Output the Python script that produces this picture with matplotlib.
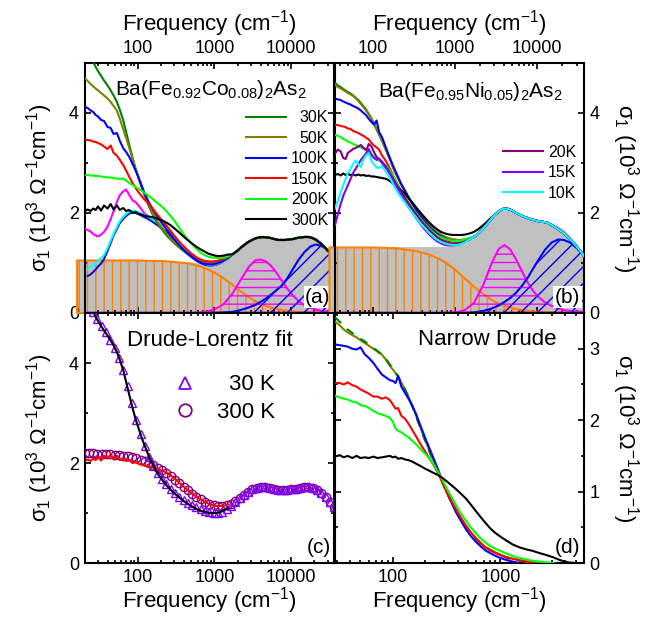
import numpy as np
import matplotlib.pyplot as plt
from matplotlib.lines import Line2D
from matplotlib.ticker import LogLocator, NullFormatter, FuncFormatter, MultipleLocator

plt.rcParams['font.family'] = ['Liberation Sans', 'DejaVu Sans']
plt.rcParams['mathtext.default'] = 'regular'
plt.rcParams['hatch.linewidth'] = 1.0

nan = np.nan

# ---------------- (a) Ba(Fe0.92Co0.08)2As2 ----------------
fa = [20, 22, 24, 26, 28, 30, 33, 36, 40, 44, 48, 53, 58, 64, 70, 77, 85, 93, 100, 110,
      120, 135, 150, 170, 190, 215, 240, 270, 300, 340, 380, 430, 480, 540, 600, 680, 760,
      850, 950, 1070, 1200, 1350, 1500]
s30 = [5.5, 5.3, 5.15, 5.02, 4.92, 4.84, 4.74, 4.65, 4.55, 4.45, 4.35, 4.22, 4.06, 3.86, 3.62,
       3.36, 3.1, 2.88, 2.73, 2.54, 2.38, 2.18, 2.02, 1.86, 1.74, 1.63, 1.54, 1.46, 1.39, 1.32,
       1.26, 1.2, 1.15, 1.11, 1.07, 1.04, 1.02, 1.0, 1.0, 1.0, 1.02, 1.06, 1.1]
s50 = [4.7, 4.64, 4.58, 4.53, 4.49, 4.45, 4.4, 4.35, 4.29, 4.22, 4.14, 4.05, 3.88, 3.68, 3.5,
       3.3, 3.08, 2.89, 2.74, 2.57, 2.41, 2.21, 2.05, 1.89, 1.77, 1.66, 1.57, 1.48, 1.41, 1.34,
       1.28, 1.22, 1.17, 1.12, 1.08, 1.05, 1.02, 1.01, 1.0, 1.01, 1.03, 1.06, 1.1]
s100 = [4.12, 4.1, 4.05, 4.02, 3.96, 3.93, 3.86, 3.84, 3.72, 3.7, 3.58, 3.6, 3.44, 3.3, 3.22,
        3.12, 2.98, 2.85, 2.74, 2.57, 2.42, 2.25, 2.12, 1.98, 1.87, 1.76, 1.66, 1.56, 1.47, 1.37,
        1.29, 1.21, 1.15, 1.09, 1.04, 1.0, 0.98, 0.97, 0.97, 0.99, 1.02, 1.06, 1.1]
s150 = [3.47, 3.46, 3.45, 3.43, 3.42, 3.4, 3.37, 3.33, 3.28, 3.35, 3.2, 3.15, 3.06, 2.96, 2.85,
        2.72, 2.6, 2.5, 2.43, 2.35, 2.28, 2.2, 2.12, 2.01, 1.92, 1.82, 1.73, 1.63, 1.54, 1.44,
        1.36, 1.28, 1.21, 1.15, 1.1, 1.06, 1.04, 1.03, 1.03, 1.04, 1.06, 1.09, 1.13]
s200 = [2.76, 2.76, 2.75, 2.75, 2.74, 2.74, 2.73, 2.72, 2.71, 2.71, 2.7, 2.69, 2.68, 2.69, 2.65,
        2.6, 2.56, 2.52, 2.49, 2.45, 2.41, 2.35, 2.3, 2.23, 2.17, 2.1, 2.02, 1.93, 1.84, 1.72,
        1.61, 1.5, 1.42, 1.33, 1.26, 1.19, 1.15, 1.12, 1.11, 1.1, 1.1, 1.11, 1.13]
s300 = [2.04, 2.07, 2.04, 2.09, 2.06, 2.13, 2.05, 2.15, 2.09, 2.18, 2.07, 2.15, 2.06, 2.1, 2.04,
        2.06, 2.0, 2.02, 1.99, 1.97, 1.95, 1.93, 1.92, 1.9, 1.87, 1.84, 1.8, 1.75, 1.69, 1.62,
        1.55, 1.48, 1.42, 1.36, 1.31, 1.26, 1.22, 1.18, 1.16, 1.14, 1.14, 1.15, 1.17]
mag_a = [1.69, 1.66, 1.63, 1.58, 1.55, 1.53, 1.57, 1.62, 1.73, 1.88, 2.04, 2.22, 2.36, 2.43, 2.47,
         2.36, 2.25, 2.22, 2.16, 2.08, 2.0, 1.94, 1.89, 1.83, 1.78, 1.72, 1.66, 1.58, 1.5, 1.41,
         1.33, 1.25, 1.18, 1.12, 1.07, 1.02, 0.99, 0.97, 0.97, 0.99, 1.02, 1.07, 1.12]
cyan_a = [nan, 0.88, 0.93, 0.95, 1.0, 1.04, 1.1, 1.16, 1.3, 1.45, 1.58, 1.72, 1.84, 1.92, 1.98,
          2.03, 2.05, 2.04, 2.02, 1.99, 1.97, 1.93, 1.89, 1.83, 1.78, 1.72, 1.66, 1.57, 1.49, 1.4,
          1.32, 1.24, 1.17, 1.11, 1.06, 1.01, 0.98, 0.96, 0.96, 0.98, 1.01, 1.06, 1.11]
dblue_a = [nan, 0.74, 0.77, 0.82, 0.87, 0.93, 0.99, 1.08, 1.24, 1.4, 1.55, 1.68, 1.8, 1.88, 1.94,
           1.99, 2.01, 2.0, 1.98, 1.95, 1.92, 1.88, 1.84, 1.78, 1.73, 1.67, 1.61, 1.53, 1.45, 1.36,
           1.28, 1.2, 1.14, 1.08, 1.03, 0.99, 0.96, 0.95, 0.95, 0.97, 1.0, 1.05, 1.1]

f_tail = [1700, 1900, 2150, 2400, 2700, 3000, 3400, 3800, 4300, 4800, 5400, 6000, 6800, 7600,
          8500, 9500, 10700, 12000, 13500, 15000, 17000, 19000, 21500, 24000, 27000, 30000,
          33000, 37000]
tail_a = [1.17, 1.22, 1.29, 1.35, 1.41, 1.45, 1.49, 1.51, 1.52, 1.51, 1.5, 1.48, 1.46, 1.46,
          1.46, 1.47, 1.48, 1.5, 1.51, 1.52, 1.52, 1.5, 1.46, 1.4, 1.33, 1.25, 1.2, 1.13]

# Drude-Lorentz components of the fit
ffa = [16, 20, 30, 50, 100, 150, 200, 300, 400, 500, 650, 800, 1000, 1300, 1700, 2200, 2800,
       3400, 4000, 4700, 5500, 6500, 7700, 9000, 10500, 12500, 15000, 18000, 21000, 25000,
       30000, 37000]
total_a = [1.05, 1.05, 1.05, 1.05, 1.05, 1.05, 1.05, 1.04, 1.03, 1.02, 1.0, 0.99, 1.02, 1.08,
           1.17, 1.3, 1.42, 1.49, 1.52, 1.51, 1.49, 1.47, 1.46, 1.47, 1.48, 1.5, 1.52, 1.51,
           1.47, 1.39, 1.27, 1.14]
drude_a = [1.05, 1.05, 1.05, 1.05, 1.05, 1.04, 1.04, 1.02, 1.0, 0.98, 0.93, 0.88, 0.81, 0.7,
           0.57, 0.43, 0.32, 0.24, 0.19, 0.14, 0.11, 0.08, 0.06, 0.04, 0.03, 0.02, 0.02, 0.01,
           0.01, 0.0, 0.0, 0.0]
lor1_a = [0, 0, 0, 0, 0, 0, 0, 0, 0, 0, 0.01, 0.03, 0.07, 0.17, 0.38, 0.66, 0.92, 1.05, 1.07,
          1.03, 0.94, 0.8, 0.63, 0.48, 0.36, 0.24, 0.15, 0.1, 0.07, 0.04, 0.03, 0.01]
lor2_a = [0, 0, 0, 0, 0, 0, 0, 0, 0, 0, 0, 0, 0, 0.01, 0.02, 0.06, 0.11, 0.16, 0.22, 0.29, 0.37,
          0.46, 0.56, 0.7, 0.87, 1.06, 1.22, 1.33, 1.37, 1.34, 1.27, 1.14]

# ---------------- (b) Ba(Fe0.95Ni0.05)2As2 ----------------
fb = [35, 38, 41, 44, 47, 50, 54, 58, 62, 67, 72, 78, 84, 90, 97, 104, 112, 120, 130, 140, 152,
      165, 180, 200, 220, 245, 270, 300, 340, 380, 430, 480, 540, 600, 680, 760, 850, 950, 1070,
      1200, 1350, 1500]
b30 = [4.6, 4.55, 4.52, 4.48, 4.45, 4.42, 4.39, 4.35, 4.31, 4.26, 4.2, 4.13, 4.06, 3.98, 3.89,
       3.79, 3.68, 3.57, 3.45, 3.33, 3.19, 3.05, 2.89, 2.73, 2.59, 2.45, 2.33, 2.21, 2.08, 1.97,
       1.86, 1.77, 1.69, 1.62, 1.56, 1.52, 1.49, 1.47, 1.46, 1.46, 1.47, 1.49]
b50 = [4.56, 4.52, 4.49, 4.46, 4.43, 4.4, 4.37, 4.34, 4.3, 4.24, 4.18, 4.11, 4.04, 3.97, 3.88,
       3.78, 3.67, 3.57, 3.44, 3.32, 3.18, 3.04, 2.88, 2.72, 2.58, 2.44, 2.32, 2.2, 2.07, 1.96,
       1.85, 1.76, 1.68, 1.62, 1.56, 1.52, 1.49, 1.47, 1.46, 1.46, 1.47, 1.49]
b100 = [4.29, 4.27, 4.26, 4.23, 4.21, 4.19, 4.17, 4.14, 4.12, 4.09, 4.05, 4.0, 3.95, 3.88, 3.82,
        3.77, 3.85, 3.62, 3.52, 3.38, 3.22, 3.07, 2.92, 2.75, 2.6, 2.46, 2.33, 2.2, 2.06, 1.94,
        1.83, 1.73, 1.65, 1.59, 1.53, 1.49, 1.46, 1.44, 1.43, 1.44, 1.46, 1.49]
b150 = [3.76, 3.76, 3.74, 3.73, 3.72, 3.69, 3.68, 3.64, 3.62, 3.6, 3.57, 3.54, 3.5, 3.47, 3.4,
        3.35, 3.31, 3.27, 3.15, 3.08, 2.98, 2.86, 2.73, 2.58, 2.46, 2.34, 2.22, 2.1, 1.98, 1.88,
        1.78, 1.69, 1.61, 1.55, 1.5, 1.46, 1.44, 1.43, 1.43, 1.44, 1.46, 1.49]
b200 = [3.56, 3.54, 3.52, 3.48, 3.46, 3.43, 3.41, 3.38, 3.36, 3.33, 3.31, 3.28, 3.25, 3.22, 3.18,
        3.13, 3.08, 3.05, 3.01, 2.97, 2.92, 2.83, 2.72, 2.58, 2.46, 2.34, 2.22, 2.11, 1.99, 1.89,
        1.79, 1.7, 1.62, 1.56, 1.51, 1.48, 1.46, 1.44, 1.44, 1.45, 1.47, 1.5]
b300 = [2.76, 2.78, 2.75, 2.79, 2.76, 2.78, 2.76, 2.77, 2.75, 2.77, 2.75, 2.76, 2.74, 2.75, 2.73,
        2.73, 2.72, 2.71, 2.7, 2.69, 2.67, 2.63, 2.58, 2.52, 2.46, 2.39, 2.31, 2.22, 2.11, 2.01,
        1.91, 1.82, 1.74, 1.68, 1.62, 1.59, 1.57, 1.56, 1.56, 1.56, 1.57, 1.59]
b300_mid = [1.62, 1.67, 1.74, 1.81, 1.89]
b20 = [3.19, 3.27, 3.23, 3.1, 3.08, 3.2, 3.24, 3.28, 3.3, 3.33, 3.36, 3.3, 3.26, 3.38, 3.33,
       3.22, 3.12, 3.08, 3.03, 2.96, 2.88, 2.78, 2.67, 2.54, 2.43, 2.31, 2.2, 2.09, 1.97, 1.86,
       1.76, 1.67, 1.59, 1.52, 1.46, 1.42, 1.4, 1.39, 1.39, 1.4, 1.43, 1.47]
b15 = [1.76, 1.98, 2.18, 2.34, 2.45, 2.55, 2.68, 2.8, 2.88, 2.97, 3.06, 3.13, 3.2, 3.28, 3.16,
       3.1, 3.06, 3.09, 3.0, 2.93, 2.86, 2.76, 2.63, 2.5, 2.38, 2.25, 2.13, 2.02, 1.89, 1.78,
       1.67, 1.58, 1.5, 1.44, 1.39, 1.36, 1.35, 1.35, 1.36, 1.38, 1.42, 1.46]
b10 = [2.09, 2.25, 2.42, 2.55, 2.68, 2.8, 2.88, 2.98, 3.05, 2.98, 2.92, 3.08, 3.16, 3.19, 3.04,
       2.97, 2.91, 2.9, 2.94, 2.86, 2.78, 2.68, 2.56, 2.42, 2.32, 2.22, 2.12, 2.02, 1.9, 1.79,
       1.7, 1.61, 1.53, 1.47, 1.42, 1.39, 1.37, 1.36, 1.36, 1.38, 1.42, 1.47]
tail_b = [1.52, 1.58, 1.67, 1.76, 1.86, 1.95, 2.03, 2.08, 2.09, 2.06, 2.01, 1.97, 1.93, 1.9,
          1.87, 1.85, 1.83, 1.82, 1.8, 1.76, 1.7, 1.65, 1.58, 1.5, 1.42, 1.33, 1.25, 1.14]

ffb = [30, 35, 50, 100, 150, 200, 300, 400, 500, 650, 800, 1000, 1300, 1700, 2200, 2800, 3400,
       4000, 4700, 5500, 6500, 7700, 9000, 10500, 12500, 15000, 18000, 21000, 25000, 30000, 37000]
total_b = [1.33, 1.33, 1.33, 1.33, 1.33, 1.33, 1.33, 1.33, 1.33, 1.33, 1.33, 1.34, 1.38, 1.5,
           1.7, 1.93, 2.06, 2.1, 2.08, 2.02, 1.97, 1.93, 1.9, 1.87, 1.84, 1.8, 1.74, 1.67, 1.55,
           1.38, 1.16]
drude_b = [1.31, 1.31, 1.31, 1.31, 1.3, 1.29, 1.25, 1.21, 1.16, 1.08, 0.99, 0.87, 0.7, 0.53,
           0.38, 0.26, 0.19, 0.15, 0.11, 0.08, 0.06, 0.04, 0.03, 0.02, 0.02, 0.01, 0.01, 0.0,
           0.0, 0.0, 0.0]
lor1_b = [0, 0, 0, 0, 0, 0, 0, 0, 0, 0, 0, 0.01, 0.05, 0.2, 0.55, 1.0, 1.28, 1.36, 1.27, 1.08,
          0.84, 0.6, 0.43, 0.31, 0.21, 0.14, 0.09, 0.06, 0.04, 0.03, 0.02]
lor2_b = [0, 0, 0, 0, 0, 0, 0, 0, 0, 0, 0, 0, 0, 0.01, 0.04, 0.09, 0.15, 0.22, 0.3, 0.4, 0.54,
          0.71, 0.9, 1.08, 1.27, 1.41, 1.47, 1.46, 1.41, 1.3, 1.14]

# ---------------- (c) Drude-Lorentz fits, 30 K and 300 K ----------------
fc = [20, 23, 26, 29.5, 33.5, 38, 43.5, 49.5, 56, 64, 73, 83, 95, 108, 123, 140, 159, 181, 206,
      235, 267, 304, 346, 394, 449, 511, 581, 662, 753, 858, 976, 1111, 1265, 1440, 1640, 1866,
      2125, 2419, 2754, 3135, 3569, 4063, 4625, 5265, 5994, 6823, 7767, 8842, 10066, 11459,
      13045, 14850, 16905, 19245, 21908, 24940, 28391, 32321, 36794]
fit30 = [5.4, 5.2, 5.02, 4.88, 4.75, 4.62, 4.46, 4.3, 4.1, 3.86, 3.55, 3.2, 2.86, 2.58, 2.34,
         2.12, 1.95, 1.81, 1.69, 1.58, 1.49, 1.41, 1.33, 1.27, 1.21, 1.16, 1.12, 1.08, 1.05, 1.02,
         1.01, 1.01, 1.03, 1.08, 1.15, 1.22, 1.3, 1.37, 1.43, 1.48, 1.51, 1.52, 1.52, 1.5, 1.48,
         1.47, 1.46, 1.47, 1.48, 1.49, 1.51, 1.52, 1.52, 1.5, 1.46, 1.4, 1.32, 1.22, 1.12]
fit300 = [2.2, 2.2, 2.2, 2.19, 2.19, 2.18, 2.18, 2.17, 2.16, 2.15, 2.14, 2.12, 2.1, 2.07, 2.04,
          2.0, 1.96, 1.91, 1.86, 1.8, 1.74, 1.67, 1.6, 1.53, 1.46, 1.39, 1.33, 1.28, 1.23, 1.19,
          1.16, 1.14, 1.14, 1.16, 1.19, 1.24, 1.3, 1.37, 1.43, 1.48, 1.51, 1.52, 1.52, 1.5, 1.48,
          1.47, 1.46, 1.47, 1.48, 1.49, 1.51, 1.52, 1.52, 1.5, 1.46, 1.4, 1.32, 1.22, 1.12]

# ---------------- (d) narrow Drude ----------------
fd = [29, 32, 35, 38, 42, 46, 50, 55, 60, 66, 72, 79, 86, 94, 100, 106, 112, 120, 130, 140, 152,
      165, 180, 200, 220, 240, 265, 290, 320, 350, 390, 430, 480, 530, 590, 650, 720, 800, 900,
      1000, 1150, 1300, 1500, 1750, 2000, 2300, 2700, 3100, 3600, 4200, 5000, 6000]
d30 = [3.44, 3.38, 3.32, 3.27, 3.22, 3.18, 3.14, 3.1, 3.06, 3.01, 2.97, 2.92, 2.86, 2.78, 2.72,
       2.67, 2.61, 2.53, 2.43, 2.32, 2.19, 2.05, 1.89, 1.71, 1.55, 1.42, 1.26, 1.12, 0.97, 0.86,
       0.73, 0.62, 0.51, 0.42, 0.34, 0.28, 0.22, 0.18, 0.14, 0.11, 0.07, 0.05, 0.03, 0.02, 0.01,
       0.0, nan, nan, nan, nan, nan, nan]
d50 = [3.38, 3.33, 3.27, 3.23, 3.19, 3.16, 3.12, 3.08, 3.04, 3.0, 2.96, 2.92, 2.85, 2.76, 2.71,
       2.66, 2.61, 2.53, 2.43, 2.33, 2.2, 2.06, 1.9, 1.72, 1.56, 1.43, 1.27, 1.13, 0.98, 0.87,
       0.74, 0.63, 0.52, 0.43, 0.35, 0.29, 0.23, 0.19, 0.15, 0.12, 0.08, 0.06, 0.04, 0.02, 0.01,
       0.0, nan, nan, nan, nan, nan, nan]
d100 = [3.06, 3.05, 3.04, 3.03, 3.0, 2.99, 3.02, 2.92, 2.87, 2.8, 2.72, 2.64, 2.6, 2.56, 2.55,
        2.52, 2.62, 2.47, 2.38, 2.3, 2.2, 2.08, 1.93, 1.75, 1.6, 1.46, 1.3, 1.14, 0.98, 0.85,
        0.7, 0.59, 0.47, 0.38, 0.3, 0.24, 0.18, 0.14, 0.1, 0.07, 0.04, 0.02, 0.0, nan, nan, nan,
        nan, nan, nan, nan, nan, nan]
d150 = [2.52, 2.52, 2.5, 2.53, 2.49, 2.47, 2.43, 2.4, 2.37, 2.33, 2.33, 2.3, 2.32, 2.28, 2.22,
        2.16, 2.17, 2.06, 2.02, 1.95, 1.86, 1.77, 1.67, 1.56, 1.46, 1.37, 1.25, 1.12, 0.98, 0.87,
        0.74, 0.63, 0.52, 0.43, 0.35, 0.28, 0.22, 0.18, 0.14, 0.11, 0.08, 0.06, 0.04, 0.02, 0.01,
        0.0, nan, nan, nan, nan, nan, nan]
d200 = [2.34, 2.32, 2.3, 2.29, 2.26, 2.25, 2.21, 2.2, 2.17, 2.13, 2.1, 2.08, 2.06, 2.03, 1.98,
        1.88, 1.85, 1.83, 1.79, 1.76, 1.71, 1.66, 1.6, 1.53, 1.46, 1.38, 1.27, 1.16, 1.03, 0.93,
        0.8, 0.69, 0.59, 0.5, 0.42, 0.35, 0.29, 0.24, 0.2, 0.17, 0.13, 0.1, 0.07, 0.05, 0.03,
        0.02, 0.01, 0.0, nan, nan, nan, nan]
d300 = [1.49, 1.51, 1.48, 1.5, 1.47, 1.5, 1.47, 1.48, 1.47, 1.49, 1.47, 1.48, 1.49, 1.5, 1.48,
        1.49, 1.46, 1.47, 1.45, 1.44, 1.42, 1.39, 1.36, 1.32, 1.29, 1.26, 1.23, 1.19, 1.14, 1.09,
        1.03, 0.97, 0.9, 0.82, 0.73, 0.65, 0.57, 0.49, 0.42, 0.37, 0.31, 0.26, 0.22, 0.19, 0.17,
        0.14, 0.11, 0.08, 0.04, 0.01, 0.0, nan]

GREEN, OLIVE, BLUE, RED, LIME = '#008000', '#808000', '#0000ff', '#ff0000', '#00ff00'
ORANGE, MAGENTA, CYAN, GREY = '#ff8000', '#ff00ff', '#00ffff', '#c0c0c0'
PURPLE, VIOLET = '#800080', '#8000ff'

YLAB = 'σ$_1$ (10$^3$ Ω$^{-1}$cm$^{-1}$)'
XLAB = 'Frequency (cm$^{-1}$)'


def setup(ax, xlim, ylim, ymaj, ymin):
    ax.set_xscale('log')
    ax.set_xlim(*xlim)
    ax.set_ylim(*ylim)
    ax.xaxis.set_major_locator(LogLocator(base=10, numticks=20))
    ax.xaxis.set_minor_locator(LogLocator(base=10, subs=np.arange(2, 10), numticks=20))
    ax.xaxis.set_major_formatter(FuncFormatter(lambda v, p: f'{v:.0f}'))
    ax.xaxis.set_minor_formatter(NullFormatter())
    ax.yaxis.set_major_locator(MultipleLocator(ymaj))
    ax.yaxis.set_minor_locator(MultipleLocator(ymin))
    ax.tick_params(which='both', direction='in', top=True, right=True, labelsize=13, width=1.2)
    ax.tick_params(which='major', length=4.5, pad=4)
    ax.tick_params(which='minor', length=2.5)
    for sp in ax.spines.values():
        sp.set_linewidth(1.5)


def components(ax, f, total, drude, lor1, lor2):
    ax.fill_between(f, 0, total, color=GREY, lw=0, zorder=1, clip_on=False)
    ax.fill_between(f, 0, drude, facecolor='none', edgecolor=ORANGE, hatch='||', lw=1.5,
                    zorder=2, clip_on=False)
    ax.fill_between(f, 0, lor1, facecolor='none', edgecolor=MAGENTA, hatch='--', lw=1.5, zorder=2)
    ax.fill_between(f, 0, lor2, facecolor='none', edgecolor=BLUE, hatch='//', lw=1.5, zorder=2)


def panel_tag(ax, s, box=True):
    kw = dict(bbox=dict(facecolor='white', edgecolor='none', pad=1.0)) if box else {}
    ax.text(0.985, 0.025, s, transform=ax.transAxes, ha='right', va='bottom', fontsize=15,
            zorder=6, **kw)


fig = plt.figure(figsize=(6.5, 6.2), dpi=100)
ax_a = fig.add_axes([0.130, 0.4952, 0.3846, 0.4032])
ax_b = fig.add_axes([0.5154, 0.4952, 0.3831, 0.4032])
ax_c = fig.add_axes([0.130, 0.0919, 0.3846, 0.4032])
ax_d = fig.add_axes([0.5154, 0.0919, 0.3831, 0.4032])

# (a)
setup(ax_a, (20, 37000), (0, 5), 2, 1)
components(ax_a, ffa, total_a, drude_a, lor1_a, lor2_a)
ax_a.plot(fa + f_tail, mag_a + tail_a, color=MAGENTA, lw=1.5, zorder=3)
ax_a.plot(fa + f_tail, dblue_a + tail_a, color='#1010d0', lw=1.5, zorder=3)
ax_a.plot(fa + f_tail, cyan_a + tail_a, color=CYAN, lw=1.5, zorder=3)
lines_a = []
for vals, col, lab in [(s30, GREEN, '30K'), (s50, OLIVE, '50K'), (s100, BLUE, '100K'),
                       (s150, RED, '150K'), (s200, LIME, '200K'), (s300, 'black', '300K')]:
    ln, = ax_a.plot(fa + f_tail, vals + tail_a, color=col, lw=1.5, zorder=3, label=lab)
    lines_a.append(ln)
ax_a.text(0.505, 0.895, 'Ba(Fe$_{0.92}$Co$_{0.08}$)$_2$As$_2$', transform=ax_a.transAxes,
          ha='center', va='center', fontsize=15)
leg_a = ax_a.legend(handles=lines_a, loc='upper right', bbox_to_anchor=(0.975, 0.81),
                    frameon=False, fontsize=11.5, handlelength=2.5, handletextpad=0.3,
                    labelspacing=0.34, borderpad=0, borderaxespad=0)
ax_a.tick_params(labelbottom=False, labeltop=True, labelright=False)
ax_a.xaxis.set_label_position('top')
ax_a.set_xlabel(XLAB, fontsize=16, labelpad=7)
ax_a.set_ylabel(YLAB, fontsize=16, labelpad=10)
panel_tag(ax_a, '(a)')

# (b)
setup(ax_b, (35, 37000), (0, 5), 2, 1)
components(ax_b, ffb, total_b, drude_b, lor1_b, lor2_b)
for vals, col in [(b30, GREEN), (b50, OLIVE), (b100, BLUE), (b150, RED), (b200, LIME)]:
    ax_b.plot(fb + f_tail, vals + tail_b, color=col, lw=1.5, zorder=3)
ax_b.plot(fb + f_tail, b300 + b300_mid + tail_b[5:], color='black', lw=1.5, zorder=3)
lines_b = []
for vals, col, lab in [(b20, PURPLE, '20K'), (b15, VIOLET, '15K'), (b10, CYAN, '10K')]:
    ln, = ax_b.plot(fb + f_tail, vals + tail_b, color=col, lw=1.5, zorder=3, label=lab)
    lines_b.append(ln)
ax_b.text(0.545, 0.885, 'Ba(Fe$_{0.95}$Ni$_{0.05}$)$_2$As$_2$', transform=ax_b.transAxes,
          ha='center', va='center', fontsize=15)
leg_b = ax_b.legend(handles=lines_b, loc='upper right', bbox_to_anchor=(0.968, 0.673),
                    frameon=False, fontsize=11.5, handlelength=2.5, handletextpad=0.3,
                    labelspacing=0.34, borderpad=0, borderaxespad=0)
ax_b.tick_params(labelbottom=False, labeltop=True, labelleft=False, labelright=True)
ax_b.xaxis.set_label_position('top')
ax_b.set_xlabel(XLAB, fontsize=16, labelpad=7)
ax_b.yaxis.set_label_position('right')
ax_b.set_ylabel(YLAB, fontsize=16, rotation=270, labelpad=30)
panel_tag(ax_b, '(b)')

# (c)
setup(ax_c, (20, 37000), (0, 5), 2, 1)
ax_c.plot(fc, fit300, ls='none', marker='o', ms=6, mfc='none', mec=PURPLE, mew=1.0, zorder=3)
ax_c.plot(fc, fit30, ls='none', marker='^', ms=6, mfc='none', mec=VIOLET, mew=1.0, zorder=3)
ax_c.plot(fa, s300, color=RED, lw=1.5, zorder=4)
ax_c.plot(fa, s30, color='black', lw=1.5, zorder=4)
ax_c.text(0.502, 0.892, 'Drude-Lorentz fit', transform=ax_c.transAxes, ha='center',
          va='center', fontsize=16)
h30 = Line2D([], [], ls='none', marker='^', ms=9, mfc='none', mec=VIOLET, mew=1.3)
h300 = Line2D([], [], ls='none', marker='o', ms=9, mfc='none', mec=PURPLE, mew=1.3)
leg_c = ax_c.legend([h30, h300], ['30 K', '300 K'], loc='upper right',
                    bbox_to_anchor=(0.762, 0.755), frameon=False, fontsize=16,
                    handlelength=1.0, handletextpad=0.95, labelspacing=0.3, borderpad=0,
                    borderaxespad=0)
ax_c.tick_params(labelright=False)
ax_c.set_xlabel(XLAB, fontsize=16, labelpad=0)
ax_c.set_ylabel(YLAB, fontsize=16, labelpad=10)
panel_tag(ax_c, '(c)', box=False)

# (d)
setup(ax_d, (29, 6000), (0, 3.5), 1, 0.5)
ax_d.plot(fd, d50, color=OLIVE, lw=1.5, zorder=3)
ax_d.plot(fd, d30, color=GREEN, lw=1.5, ls=(0, (4, 4)), zorder=3)
ax_d.plot(fd, d100, color=BLUE, lw=1.5, zorder=3)
ax_d.plot(fd, d150, color=RED, lw=1.5, zorder=3)
ax_d.plot(fd, d200, color=LIME, lw=1.5, zorder=3)
ax_d.plot(fd, d300, color='black', lw=1.5, zorder=3)
ax_d.text(0.61, 0.896, 'Narrow Drude', transform=ax_d.transAxes, ha='center', va='center',
          fontsize=16)
ax_d.tick_params(labelleft=False, labelright=True)
ax_d.set_xlabel(XLAB, fontsize=16, labelpad=0)
ax_d.yaxis.set_label_position('right')
ax_d.set_ylabel(YLAB, fontsize=16, rotation=270, labelpad=30)
panel_tag(ax_d, '(d)', box=False)

# right-align the legend labels
fig.canvas.draw()
for leg in (leg_a, leg_b, leg_c):
    texts = leg.get_texts()
    widths = [t.get_window_extent().width for t in texts]
    wmax = max(widths)
    for t, w in zip(texts, widths):
        t.set_position((wmax - w, 0))

fig.savefig('out.png', dpi=100)
